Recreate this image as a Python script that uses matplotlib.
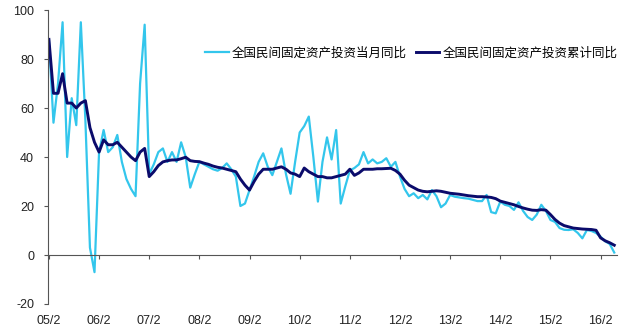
import matplotlib
matplotlib.use('Agg')
import matplotlib.pyplot as plt
import numpy as np

plt.rcParams['axes.unicode_minus'] = False

# Feb..Dec per year (Jan is merged into Feb), 05/2 through 16/5
monthly = [88, 54, 70, 95, 40, 64, 53, 95, 55, 3, -7,
           42, 51, 42, 44, 49, 38, 31, 27, 24, 70, 94,
           33, 37, 42, 43.5, 38, 42, 38, 46, 40, 27.5, 33,
           38, 37, 36, 35, 34.4, 35.5, 37.4, 35, 32, 20, 21,
           26.5, 32, 38, 41.5, 36, 32.6, 38, 43.5, 33, 25, 38,
           50, 52.6, 56.5, 40, 21.8, 38, 48, 39, 51, 21, 28,
           34.5, 35.5, 37, 42, 37.4, 39, 37.4, 38, 39.5, 36, 38,
           32, 27, 24, 25.2, 23.2, 24.5, 22.7, 26.5, 24, 19.5, 21,
           24.5, 23.8, 23.5, 23.2, 23, 22.5, 22, 22, 24.5, 17.5, 17,
           21.8, 20.5, 20, 18.4, 21.5, 18, 15.5, 14.3, 16.5, 20.5, 18,
           14.3, 13.5, 11, 10.3, 10.2, 10.5, 9, 6.8, 10.2, 9.8, 9,
           7.5, 5.6, 4.5, 1]

cumulative = [88, 66, 66, 74, 62, 62, 60, 62, 63, 52, 46,
              42, 47, 45, 45, 46, 44, 42, 40, 38.5, 42, 43.5,
              32, 34, 36.5, 38, 38.5, 38.8, 38.8, 39.3, 39.9, 38.5, 38.2,
              38.1, 37.5, 37, 36.3, 35.8, 35.5, 35, 34.5, 34, 31, 28.5,
              26.5, 30, 33, 35, 35, 35, 35.5, 36, 35, 33.5, 33,
              32, 35.5, 34, 33, 32, 32, 31.5, 31.5, 32, 32.5, 33,
              35, 32.5, 33.5, 35, 35, 35, 35.2, 35.2, 35.3, 35.4, 34.5,
              33, 30.5, 28.5, 27.5, 26.5, 26, 25.8, 26, 26.2, 26, 25.6,
              25.2, 25, 24.8, 24.5, 24.2, 24, 23.8, 23.8, 23.7, 23.5, 23,
              22, 21.5, 21, 20.5, 19.8, 19.2, 18.7, 18.3, 18.2, 18.5, 18.3,
              16.5, 14.5, 13, 12, 11.5, 11, 10.8, 10.6, 10.5, 10.4, 10.1,
              7, 5.8, 5, 4]

tick_labels = ['05/2', '06/2', '07/2', '08/2', '09/2', '10/2',
               '11/2', '12/2', '13/2', '14/2', '15/2', '16/2']
series_names = ['全国民间固定资产投资当月同比', '全国民间固定资产投资累计同比']

x = np.arange(len(monthly))
tick_pos = np.arange(len(tick_labels)) * 11

fig = plt.figure(figsize=(6.33, 3.35), dpi=100)
ax = fig.add_axes([48/633, 31/335, 569/633, 294/335])

ax.plot(x, monthly, color='#33C6EC', lw=1.6, label=series_names[0],
        solid_joinstyle='round')
ax.plot(x, cumulative, color='#0B0B6B', lw=2.1, label=series_names[1],
        solid_joinstyle='round')

ax.set_xlim(-0.2, 124.6)
ax.set_ylim(-20, 100)
ax.set_yticks(range(-20, 101, 20))
ax.set_xticks(tick_pos)
ax.set_xticklabels(tick_labels)

for s in ['top', 'right']:
    ax.spines[s].set_visible(False)
ax.spines['bottom'].set_position(('data', 0))
ax.spines['bottom'].set_color('#555555')
ax.spines['left'].set_color('#555555')
ax.spines['bottom'].set_linewidth(0.8)
ax.spines['left'].set_linewidth(0.8)

ax.tick_params(axis='y', direction='out', length=3, width=0.8, color='#555555',
               pad=7, labelsize=9, labelcolor='#222222')
ax.tick_params(axis='x', direction='out', length=3, width=0.8, color='#555555',
               pad=40, labelsize=9, labelcolor='#222222')
for lab in ax.get_xticklabels() + ax.get_yticklabels():
    lab.set_fontfamily(['Liberation Sans', 'DejaVu Sans'])

ax.legend(loc='center left', bbox_to_anchor=(205/633, 1 - 53/335),
          bbox_transform=fig.transFigure, ncol=2, frameon=False,
          borderpad=0, borderaxespad=0, handlelength=1.9, handletextpad=0.25,
          columnspacing=0.7,
          prop={'family': ['Noto Sans CJK SC', 'DejaVu Sans'], 'size': 9})

fig.savefig('out.png', dpi=100)
